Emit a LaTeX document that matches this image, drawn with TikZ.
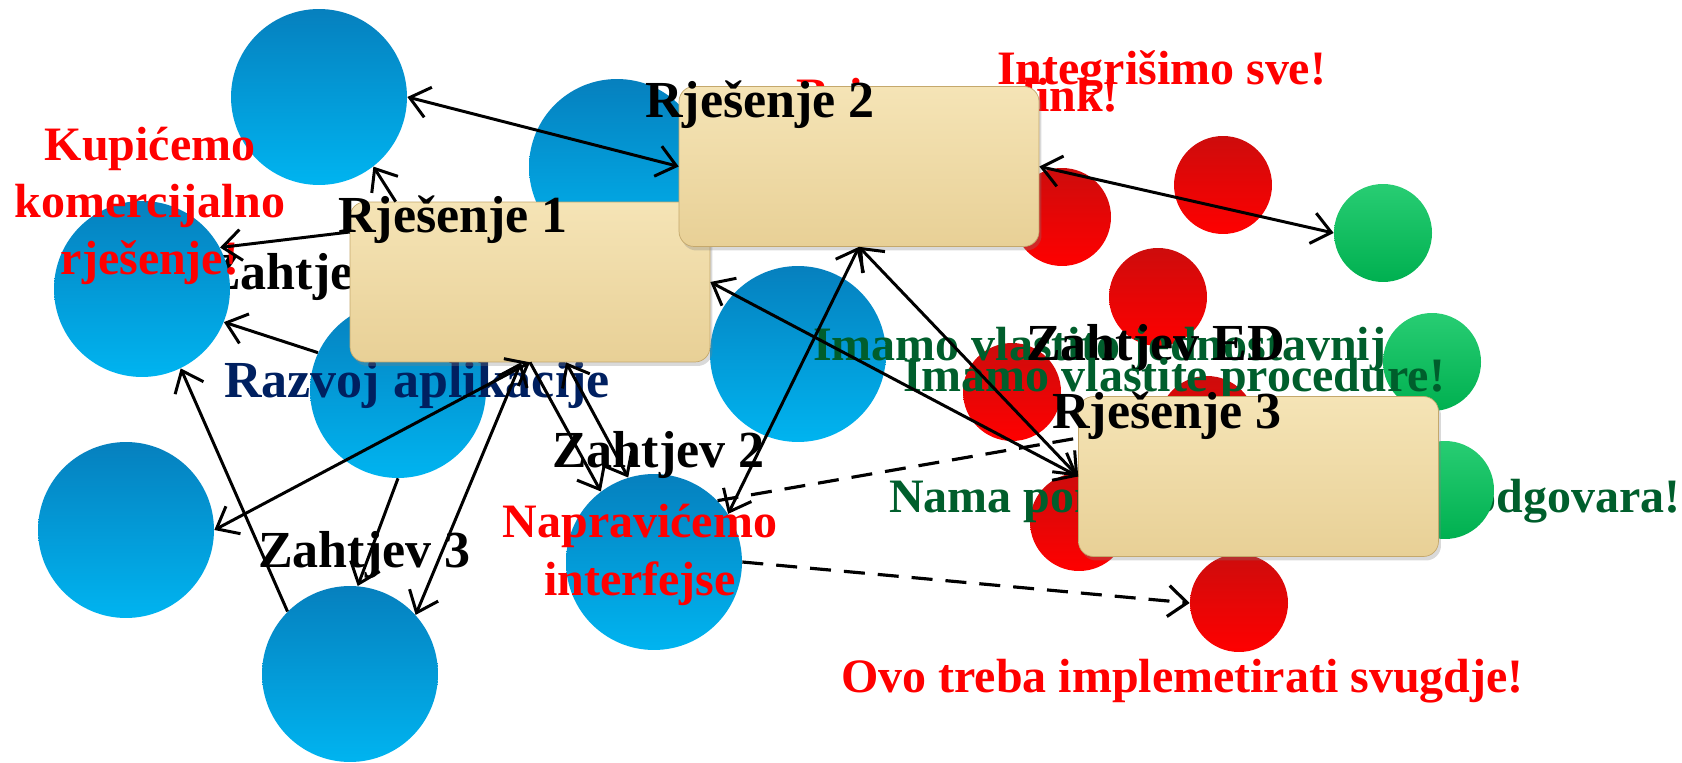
\documentclass[tikz,border=0pt]{standalone}
\usepackage{fontspec}
\setmainfont{Liberation Serif}
\usetikzlibrary{arrows.meta,shadows}

\definecolor{skyblue}{RGB}{0,180,240}
\definecolor{deepblue}{RGB}{6,128,190}
\definecolor{alarmred}{RGB}{255,0,0}
\definecolor{darkred}{RGB}{205,12,12}
\definecolor{leafgreen}{RGB}{0,176,80}
\definecolor{paleleaf}{RGB}{40,205,115}
\definecolor{forest}{RGB}{0,94,44}
\definecolor{navytext}{RGB}{0,32,96}
\definecolor{parchment}{RGB}{232,208,150}
\definecolor{parchmentlt}{RGB}{245,228,182}
\definecolor{parchmentdk}{RGB}{196,168,108}

\begin{document}
\begin{tikzpicture}[
  x=0.02cm, y=-0.02cm,
  every node/.style={font=\bfseries},
  bigdot/.style={circle, minimum size=3.52cm, inner sep=0pt,
                 top color=deepblue, bottom color=skyblue},
  reddot/.style={circle, minimum size=1.96cm, inner sep=0pt,
                 top color=darkred, bottom color=alarmred},
  greendot/.style={circle, minimum size=1.96cm, inner sep=0pt,
                   top color=paleleaf, bottom color=leafgreen},
  card/.style={rounded corners=0.3cm, minimum width=7.2cm,
               minimum height=3.2cm, top color=parchmentlt,
               bottom color=parchment, draw=parchmentdk,
               drop shadow={opacity=0.3,shadow xshift=0.05cm,
                            shadow yshift=-0.08cm}},
  title/.style={anchor=base west, font=\fontsize{29.6}{33}\selectfont\bfseries},
  shout/.style={font=\fontsize{27.3}{32.7}\selectfont\bfseries, text=alarmred},
  calm/.style={anchor=base west, font=\fontsize{27.3}{32.7}\selectfont\bfseries,
               text=forest},
  link/.style={-{Straight Barb[length=0.38cm,width=0.62cm]}, line width=1.7pt},
  twoway/.style={{Straight Barb[length=0.38cm,width=0.62cm]}-{Straight Barb[length=0.38cm,width=0.62cm]},
                 line width=1.7pt},
  hint/.style={dashed, dash pattern=on 0.42cm off 0.26cm, line width=1.8pt},
]
  \useasboundingbox (0,0) rectangle (1682,763);

  % texts that end up behind the shapes
  \node[title] (req1) at (200,290) {Zahtjev 1};
  \node[shout, anchor=base west] (link) at (790,112) {Brinemo o link!};

  % requirements
  \node[bigdot] (topball) at (319,97) {};
  \node[bigdot] (leftball) at (142,289) {};
  \node[bigdot] (devball) at (398,390) {};
  \node[bigdot] (lowball) at (126,530) {};
  \node[bigdot] (football) at (350,674) {};
  \node[bigdot] (backball) at (617,167) {};
  \node[bigdot] (midball) at (798,354) {};
  \node[bigdot] (ifball) at (654,562) {};

  \node[reddot] (ra) at (1062,217) {};
  \node[reddot] (rb) at (1223,185) {};
  \node[reddot] (rc) at (1158,297) {};
  \node[reddot] (rd) at (1012,392) {};
  \node[reddot] (re) at (1207,425) {};
  \node[reddot] (rf) at (1079,522) {};
  \node[reddot] (rg) at (1239,603) {};
  \node[greendot] (ga) at (1383,233) {};

  \node[shout, align=center, anchor=base] (buy) at (150,275)
    {Kupićemo\\komercijalno\\rješenje!};
  \node[anchor=base west, font=\fontsize{29.6}{33}\selectfont\bfseries,
        text=navytext] (dev) at (218,397) {Razvoj aplikacije};
  \node[title] (req2) at (546,467) {Zahtjev 2};
  \node[title] (req3) at (252,567) {Zahtjev 3};
  \node[shout, align=center, anchor=base] (iface) at (640,595)
    {Napravićemo\\interfejse};
  \node[shout, anchor=base west] (everywhere) at (835,692)
    {Ovo treba implemetirati svugdje!};

  \node[calm] (own1) at (807,360) {Imamo vlastito jednostavnije};
  \node[title] (reqed) at (1020,360) {Zahtjev ED};
  \node[greendot] (gb) at (1432,362) {};
  \node[calm] (own2) at (897,391) {Imamo vlastite procedure!};
  \node[calm] (fit) at (883,512) {Nama ponuđeno rješenje ne odgovara!};
  \node[greendot] (gc) at (1445,490) {};

  % solutions
  \node[card] (sol1) at (530,282) {};
  \node[title] (sol1t) at (332,233) {Rješenje 1};
  \node[card] (sol2) at (859,166.5) {};
  \node[title] (sol2t) at (639,118) {Rješenje 2};
  \node[card] (sol3) at (1258.5,476.5) {};
  \node[title] (sol3t) at (1046,428) {Rješenje 3};
  \node[shout, anchor=base west] (merge) at (991,85) {Integrišimo sve!};

  \draw[twoway] (topball.east) -- (sol2.west);
  \draw[link] ([xshift=0.92cm]sol1.north west) -- (topball.-52);
  \draw[link] ([yshift=1cm]sol1.west) -- (leftball.28);
  \draw[link] (devball.155) -- (leftball.-22);
  \draw[link] (football.135) -- (leftball.-64);
  \draw[twoway] (sol1.south) -- (lowball.east);
  \draw[link] (devball.south) -- (football.85);
  \draw[twoway] ([xshift=-0.18cm]sol1.south) -- (football.42);
  \draw[link] (sol1.south) -- (ifball.127);
  \draw[twoway] ([xshift=0.72cm]sol1.south) -- (ifball.107);
  \draw[twoway] (sol2.south) -- (ifball.33);
  \draw[twoway] (sol1.east) -- (sol3.west);
  \draw[twoway] (sol2.south) -- (sol3.west);
  \draw[twoway] (sol2.east) -- (ga.west);
  \draw[hint] (ifball.44) -- ([yshift=0.77cm]sol3.west);
  \draw[hint, -{Straight Barb[length=0.38cm,width=0.62cm]}] (ifball.east) -- (rg.west);
\end{tikzpicture}
\end{document}
